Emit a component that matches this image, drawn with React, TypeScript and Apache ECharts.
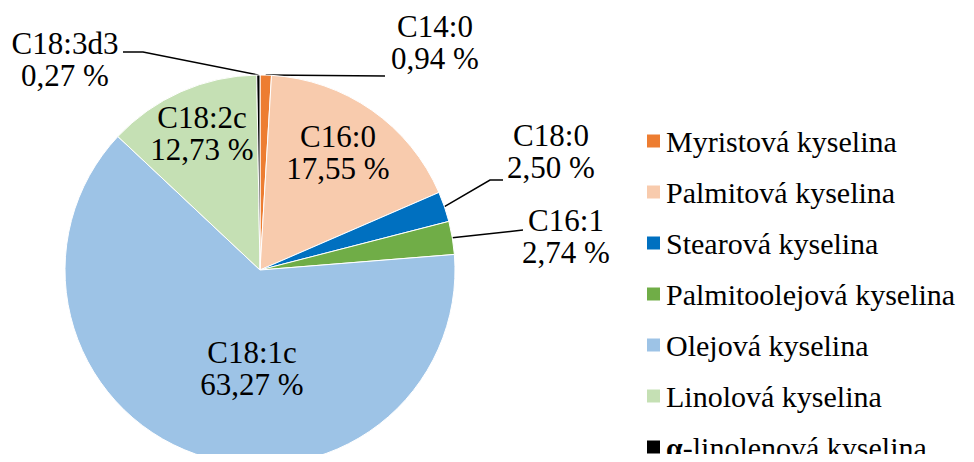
import React, { useEffect, useRef } from "react";
import * as echarts from "echarts";

const codes = ["C14:0", "C16:0", "C18:0", "C16:1", "C18:1c", "C18:2c", "C18:3d3"];
const names = [
  "Myristová kyselina",
  "Palmitová kyselina",
  "Stearová kyselina",
  "Palmitoolejová kyselina",
  "Olejová kyselina",
  "Linolová kyselina",
  "α-linolenová kyselina",
];
const values = [0.94, 17.55, 2.5, 2.74, 63.27, 12.73, 0.27];
const colors = ["#ED7D31", "#F8CBAD", "#0070C0", "#70AD47", "#9DC3E6", "#C5E0B4", "#000000"];
const insideLabel = [false, true, false, false, true, true, false];

// label placement (annotation layout)
const labelPos: Record<number, { x: number; y: number; line?: number[][] }> = {
  0: { x: 435, y: 42, line: [[385, 76]] },
  1: { x: 338, y: 152 },
  2: { x: 551, y: 151, line: [[490, 180], [503, 180]] },
  3: { x: 566, y: 236, line: [[523, 230]] },
  4: { x: 252, y: 368 },
  5: { x: 202, y: 133 },
  6: { x: 65, y: 59, line: [[143, 52], [123, 52]] },
};

const FONT = "Liberation Serif";

export default function App() {
  const ref = useRef<HTMLDivElement>(null);
  useEffect(() => {
    if (!ref.current) return;
    const chart = echarts.init(ref.current, null, { renderer: "svg" });
    const data = values.map((v, i) => ({
      name: names[i],
      value: v,
      itemStyle: { color: colors[i] },
      label: { position: insideLabel[i] ? "inside" : "outside" },
      labelLine: { show: !insideLabel[i] },
    }));
    chart.setOption({
      animation: false,
      backgroundColor: "#ffffff",
      legend: {
        orient: "vertical",
        left: 640,
        top: 121,
        height: 420,
        itemWidth: 15,
        itemHeight: 15,
        itemGap: 21,
        icon: "rect",
        data: names,
        formatter: (n: string) =>
          n.startsWith("α") ? "{b|α}" + n.slice(1) : n,
        textStyle: {
          fontFamily: FONT,
          fontSize: 30,
          lineHeight: 30,
          color: "#000",
          rich: {
            b: { fontFamily: FONT, fontSize: 30, fontWeight: "bold", color: "#000" },
          },
        },
      },
      series: [
        {
          type: "pie",
          center: [260, 270],
          radius: 195,
          startAngle: 90,
          clockwise: true,
          avoidLabelOverlap: false,
          itemStyle: { borderColor: "#ffffff", borderWidth: 1 },
          emphasis: { disabled: true },
          label: {
            show: true,
            fontFamily: FONT,
            fontSize: 31,
            lineHeight: 32,
            color: "#000",
            align: "center",
            formatter: (p: any) =>
              codes[p.dataIndex] + "\n" + values[p.dataIndex].toFixed(2).replace(".", ",") + " %",
          },
          labelLine: { show: true, lineStyle: { color: "#000", width: 1.5 }, length: 10, length2: 10 },
          labelLayout: (params: any) => {
            const pos = labelPos[params.dataIndex];
            const out: any = { x: pos.x, y: pos.y, align: "center", verticalAlign: "middle" };
            if (pos.line && params.labelLinePoints && params.labelLinePoints[0]) {
              out.labelLinePoints = [params.labelLinePoints[0], ...pos.line];
            }
            return out;
          },
          data,
        },
      ],
    });
    return () => chart.dispose();
  }, []);
  return <div ref={ref} style={{ width: 974, height: 462, margin: -8 }} />;
}
